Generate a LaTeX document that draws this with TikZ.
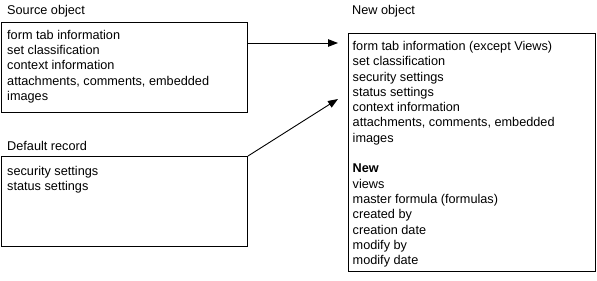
\documentclass[tikz,border=0pt]{standalone}
\usepackage{fontspec}
\setmainfont{Liberation Sans}
\usetikzlibrary{arrows.meta}
\begin{document}
\begin{tikzpicture}[x=1pt,y=-1pt,
  box/.style={draw=black,line width=1pt,inner sep=0pt,anchor=north west},
  txt/.style={inner sep=0pt,anchor=north west,align=left,font=\fontsize{12.7}{15.2}\selectfont},
  lbl/.style={inner sep=0pt,anchor=base west,font=\fontsize{12.7}{15.2}\selectfont},
  arr/.style={line width=0.9pt,-{Triangle[length=10pt,width=7.5pt]}}]
\useasboundingbox (0,0) rectangle (597,281);
% boxes
\node[box,minimum width=246pt,minimum height=90pt] (src) at (1,22) {};
\node[box,minimum width=246pt,minimum height=90pt] (def) at (1,156) {};
\node[box,minimum width=247pt,minimum height=238pt] (new) at (348,33) {};
% labels
\node[lbl] (srcl) at (7,14.5) {Source object};
\node[lbl] (defl) at (7,150) {Default record};
\node[lbl] (newl) at (352,14.5) {New object};
% contents
\node[txt] (srct) at (7,30) {form tab information\\set classification\\context information\\attachments, comments, embedded\\images};
\node[txt] (deft) at (7,166.3) {security settings\\status settings};
\node[txt,font=\fontsize{12.7}{15.3}\selectfont] (newt) at (352.5,41) {form tab information (except Views)\\set classification\\security settings\\status settings\\context information\\attachments, comments, embedded\\images\\[15.3pt]\textbf{New}\\views\\master formula (formulas)\\created by\\creation date\\modify by\\modify date};
% arrows
\coordinate (e1) at (338,43);
\coordinate (e2) at (338,99);
\draw[arr] (src.north east |- e1) -- (e1);
\draw[arr] (def.north east) -- (e2);
\end{tikzpicture}
\end{document}
